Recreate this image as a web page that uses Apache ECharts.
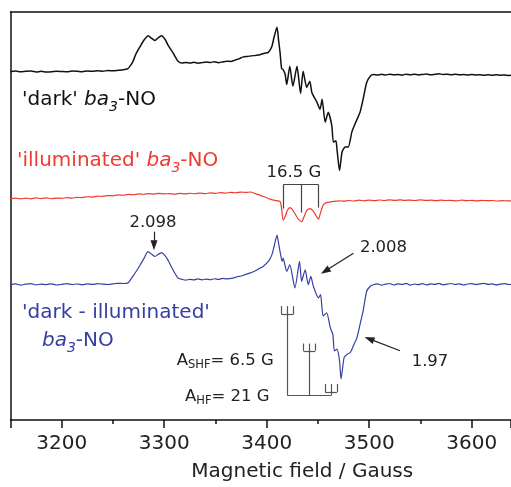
<!DOCTYPE html>
<html><head><meta charset="utf-8">
<script src="https://cdn.jsdelivr.net/npm/echarts@6/dist/echarts.min.js"></script>
<style>html,body{margin:0;padding:0;background:#fff}#c{width:511px;height:487px}</style>
</head><body><div id="c"></div>
<script>
// Magnetic field (Gauss) and relative intensity (arbitrary units)
const fieldBlack = [3150,3155,3160,3165,3170,3175,3180,3185,3190,3195,3200,3205,3210,3215,3220,3225,3230,3235,3240,3245,3250,3255,3260,3264.5,3267,3269.5,3272.5,3276.5,3280.5,3284.5,3287,3291,3294,3297.5,3301,3303.5,3308.5,3313.5,3317.5,3321,3325,3329,3333,3337,3341,3345,3349,3353,3357,3361,3365,3369,3373,3377,3381,3385,3389,3393.5,3398,3401.5,3405,3407,3410,3411.5,3413,3414.5,3416,3418,3419.5,3422.5,3425.5,3429.5,3433,3435.5,3439,3442,3444,3449,3452,3454,3457,3460,3463.5,3465,3467.5,3468.5,3471,3473.5,3476.5,3479.5,3483,3486,3491,3494,3497.5,3501,3504,3508,3512,3516,3520,3524,3528,3532,3536,3540,3544,3548,3552,3556,3560,3564,3568,3572,3576,3580,3584,3588,3592,3596,3600,3604,3608,3612,3616,3620,3624,3628,3632,3636,3640];
const valBlack = [0,0.6,-0.3,0.4,0.5,-0.4,0.2,-0.5,-0.3,0.4,0.1,-0.2,0.5,0.3,-0.1,0.6,0.2,0.7,0.4,1.0,0.8,1.3,1.8,3,6,10.3,18,25.3,32,36,34,31.3,34,36,32,27,19,10.3,8.5,9.2,8.6,9.3,8.4,9.0,9.6,9.2,9.8,9.0,9.7,10.4,10.2,11.5,12.8,14.8,15.2,15.8,16.3,17,18.5,19.3,25.3,34,44.7,32,19,3,2,-3,-13,5.3,-14.7,5.3,-22,0.3,-16,-9.7,-21,-31,-38,-28,-51,-41,-54.7,-71,-69.7,-78,-99.7,-81,-76,-76,-61,-53,-41,-28,-11,-4.7,-3,-3.4,-2.8,-3.5,-2.7,-3.3,-2.9,-3.6,-2.6,-3.2,-2.7,-3.4,-3.0,-2.5,-3.3,-2.8,-2.2,-3.0,-2.6,-3.2,-2.7,-3.3,-3.0,-3.5,-2.9,-3.4,-3.1,-3.6,-3.2,-3.7,-3.3,-3.6,-3.4,-3.9,-3.6];

const fieldRed = [3150,3155,3160,3165,3170,3175,3180,3185,3190,3195,3200,3205,3210,3215,3220,3225,3230,3235,3240,3245,3250,3255,3260,3265,3270,3275,3280,3285,3290,3295,3300,3305,3310,3315,3320,3325,3330,3335,3340,3345,3350,3355,3360,3365,3370,3375,3380,3384,3389,3394,3399,3404,3408,3413,3414.5,3416,3418,3420,3422.5,3425,3428,3431,3434,3436.5,3439,3442,3445,3448,3450.5,3452.5,3455,3458,3462,3465,3470,3475,3480,3485,3490,3495,3500,3505,3510,3515,3520,3525,3530,3535,3540,3545,3550,3555,3560,3565,3570,3575,3580,3585,3590,3595,3600,3605,3610,3615,3620,3625,3630,3635,3640];
const valRed = [0,0.6,-0.3,0.5,-0.2,0.7,0.1,0.8,-0.1,0.6,0.3,1.0,0.5,1.3,1.0,1.9,1.6,2.5,2.3,3.1,2.8,3.7,3.4,4.2,3.9,4.8,4.4,5.1,4.6,5.3,4.8,5.0,4.5,5.2,4.7,5.4,4.9,5.6,5.1,5.8,5.3,6.0,5.6,6.3,5.9,6.6,6.2,6.7,5.0,3.3,1.2,-0.7,-1.8,-3,-10,-21.7,-18,-12,-9,-11,-16,-21,-23.3,-18,-12,-10,-12,-17,-20.7,-14,-6.7,-4,-3.3,-2.8,-2.2,-2.6,-1.9,-2.4,-1.6,-2.2,-1.5,-2.0,-1.4,-1.9,-1.3,-1.8,-1.2,-1.7,-1.5,-1.9,-1.3,-1.8,-1.6,-2.1,-1.5,-1.9,-1.7,-2.2,-1.6,-2.0,-1.8,-2.3,-1.7,-2.1,-1.9,-2.4,-2.0,-2.3,-2.1];

const fieldBlue = [3150,3155,3160,3165,3170,3175,3180,3185,3190,3195,3200,3205,3210,3215,3220,3225,3230,3235,3240,3245,3250,3255,3260,3264.5,3269.5,3273,3276.5,3280.5,3284,3287.5,3291,3294,3297.5,3301,3303.5,3308.5,3313.5,3317,3321,3325,3329,3333,3337,3341,3345,3349,3353,3357,3361,3367,3371,3375,3379,3383.5,3388,3393.5,3396.5,3401.5,3405,3407.5,3410,3411.5,3413,3415,3416,3419.5,3422.5,3427.5,3432,3434,3437.5,3440.5,3443,3445.5,3450.5,3452.5,3455,3458.5,3462,3464.5,3466,3468.5,3471,3472.5,3475.5,3478.5,3481.5,3484.5,3488,3491,3494,3497.5,3501,3504,3508,3512,3516,3520,3524,3528,3532,3536,3540,3544,3548,3552,3556,3560,3564,3568,3572,3576,3580,3584,3588,3592,3596,3600,3604,3608,3612,3616,3620,3624,3628,3632,3636,3640];
const valBlue = [0,0.8,-0.4,0.5,1.0,-0.2,0.6,0.1,0.9,-0.3,0.4,1.1,0.2,0.7,-0.1,0.8,0.3,1.0,0.5,0.2,0.9,1.4,1.2,1.7,8.7,14,20,27,33.4,31,28.4,30.5,32.4,29,25,15,6.7,5.5,4.6,5.4,4.8,5.8,4.9,5.6,5.0,6.0,5.3,6.4,5.9,6.7,8.0,8.8,10.2,11.7,13.5,16.7,18.4,23.4,30,40,50,42,33.4,23.4,26.7,13.4,20,-3.3,23.4,3.4,15,0,8.4,-1.6,-13.3,-10,-31.6,-28.3,-43.3,-50,-66.6,-65,-76.6,-95,-73.3,-70,-68.3,-61.6,-53.3,-40,-26.6,-6.6,-1.6,0,0.8,-0.5,0.6,1.2,-0.3,0.9,0.2,1.4,-0.4,0.7,0.1,1.1,-0.2,0.8,0.3,1.3,-0.1,0.6,1.2,0.2,0.9,-0.3,0.7,1.0,0.1,0.8,1.3,0.3,0.9,-0.2,0.6,1.1,0.2,0.5];

// vertical stacking offsets of the three spectra
const offsetBlack = 351, offsetRed = 223, offsetBlue = 136.3;

// hyperfine stick diagram (field positions) and 16.5 G bracket
const bracketFields = [3416.2, 3434.1, 3450.3];
const stickStems = [3420.1, 3441.6, 3462.7];

const FONT = 'DejaVu Sans';
const RED = '#ee3b2f', BLUE = '#3640a0', INK = '#222';

const toPairs = (f, v, off) => f.map((x, i) => [x, v[i] + off]);

function seg(x1, y1, x2, y2) { return [{coord: [x1, y1]}, {coord: [x2, y2]}]; }

const bracketLines = [
  seg(bracketFields[0], 237.3, bracketFields[2], 237.3),
  seg(bracketFields[0], 237.3, bracketFields[0], 213),
  seg(bracketFields[1], 237.3, bracketFields[1], 209),
  seg(bracketFields[2], 237.3, bracketFields[2], 214)
];
const tridentTops = [114.7, 77, 36.3];
const tridentBars = [106.3, 69.7, 28];
const halfW = 5.7;
const stickLines = [seg(stickStems[0], 24.7, stickStems[2], 24.7)];
stickStems.forEach((s, i) => {
  stickLines.push(seg(s, 24.7, s, tridentTops[i]));
  stickLines.push(seg(s - halfW, tridentBars[i], s + halfW, tridentBars[i]));
  stickLines.push(seg(s - halfW, tridentBars[i], s - halfW, tridentTops[i]));
  stickLines.push(seg(s + halfW, tridentBars[i], s + halfW, tridentTops[i]));
});
const arrowLines = [
  seg(3290.0, 189.7, 3290.0, 176),
  seg(3484.6, 168, 3457, 150),
  seg(3530.0, 69.7, 3500, 81.7)
];

function rich(color, big, small, lh, slh) {
  return {
    n: {fontFamily: FONT, fontSize: big, lineHeight: lh, fill: color},
    i: {fontFamily: FONT, fontSize: big, lineHeight: lh, fill: color, fontStyle: 'italic'},
    s: {fontFamily: FONT, fontSize: small, lineHeight: slh, fill: color, fontStyle: 'italic', verticalAlign: 'bottom'},
    u: {fontFamily: FONT, fontSize: small, lineHeight: slh, fill: color, verticalAlign: 'bottom'}
  };
}
function txt(x, y, text, r, align) {
  return {type: 'text', x: x, y: y, silent: true,
    style: {text: text, rich: r, align: align || 'left', verticalAlign: 'middle'}};
}
function plain(x, y, text, size) {
  return {type: 'text', x: x, y: y, silent: true,
    style: {text: text, fontFamily: FONT, fontSize: size, fill: INK, align: 'center', verticalAlign: 'middle'}};
}

const axisInk = {color: '#111', width: 1.5};
const chart = echarts.init(document.getElementById('c'), null, {renderer: 'canvas'});
chart.setOption({
  animation: false,
  backgroundColor: '#fff',
  grid: {left: 10.5, top: 12, width: 500.5, height: 411, show: false},
  xAxis: [{
    type: 'value', min: 3150, max: 3638.3, splitNumber: 5,
    name: 'Magnetic field / Gauss', nameLocation: 'middle', nameGap: 42,
    nameTextStyle: {fontFamily: FONT, fontSize: 20, color: INK, padding: [0, 0, 0, 83]},
    axisLine: {lineStyle: axisInk},
    axisTick: {length: 8, lineStyle: axisInk},
    minorTick: {show: true, splitNumber: 2, length: 4, lineStyle: axisInk},
    splitLine: {show: false},
    axisLabel: {fontFamily: FONT, fontSize: 20, color: INK, margin: 14, showMinLabel: false, showMaxLabel: false,
      formatter: v => String(v)}
  }, {
    type: 'value', position: 'top', min: 3150, max: 3638.3,
    axisLine: {lineStyle: axisInk}, axisTick: {show: false}, axisLabel: {show: false}, splitLine: {show: false}
  }],
  yAxis: {type: 'value', min: 0, max: 411,
    axisLine: {show: true, lineStyle: axisInk}, axisTick: {show: false}, axisLabel: {show: false}, splitLine: {show: false}},
  series: [
    {type: 'line', data: toPairs(fieldBlack, valBlack, offsetBlack), showSymbol: false, symbol: 'none', smooth: 0.2,
     lineStyle: {color: '#111', width: 1.5}, z: 3},
    {type: 'line', data: toPairs(fieldRed, valRed, offsetRed), showSymbol: false, symbol: 'none', smooth: 0.2,
     lineStyle: {color: RED, width: 1.2}, z: 3,
     markLine: {silent: true, symbol: ['none', 'none'], label: {show: false}, animation: false,
       lineStyle: {color: '#444', width: 1.2, type: 'solid'}, data: bracketLines}},
    {type: 'line', data: toPairs(fieldBlue, valBlue, offsetBlue), showSymbol: false, symbol: 'none', smooth: 0.2,
     lineStyle: {color: BLUE, width: 1.2}, z: 3,
     markLine: {silent: true, symbol: ['none', 'none'], label: {show: false}, animation: false,
       lineStyle: {color: '#555', width: 1.2, type: 'solid'}, data: stickLines}},
    {type: 'line', data: [], markLine: {silent: true, symbol: ['none', 'triangle'], symbolSize: [7, 10],
       label: {show: false}, animation: false,
       lineStyle: {color: INK, width: 1.2, type: 'solid'}, itemStyle: {color: INK}, data: arrowLines}}
  ],
  graphic: [
    txt(22, 100, "{n|'dark' }{i|ba}{s|3}{n|-NO}", rich('#111', 20, 14, 28, 8)),
    txt(17, 161, "{n|'illuminated' }{i|ba}{s|3}{n|-NO}", rich(RED, 20, 14, 28, 8)),
    txt(22, 313, "{n|'dark - illuminated'}", rich(BLUE, 20, 14, 28, 8)),
    txt(42, 341, "{i|ba}{s|3}{n|-NO}", rich(BLUE, 20, 14, 28, 8)),
    plain(294, 173, '16.5 G', 16.5),
    plain(153, 223, '2.098', 16.5),
    plain(383.5, 248, '2.008', 16.5),
    plain(430, 361.5, '1.97', 16.5),
    txt(176.7, 361, "{n|A}{u|SHF}{n|= 6.5 G}", rich(INK, 16.5, 11.5, 20, 8)),
    txt(185, 396.7, "{n|A}{u|HF}{n|= 21 G}", rich(INK, 16.5, 11.5, 20, 8))
  ]
});
</script></body></html>
